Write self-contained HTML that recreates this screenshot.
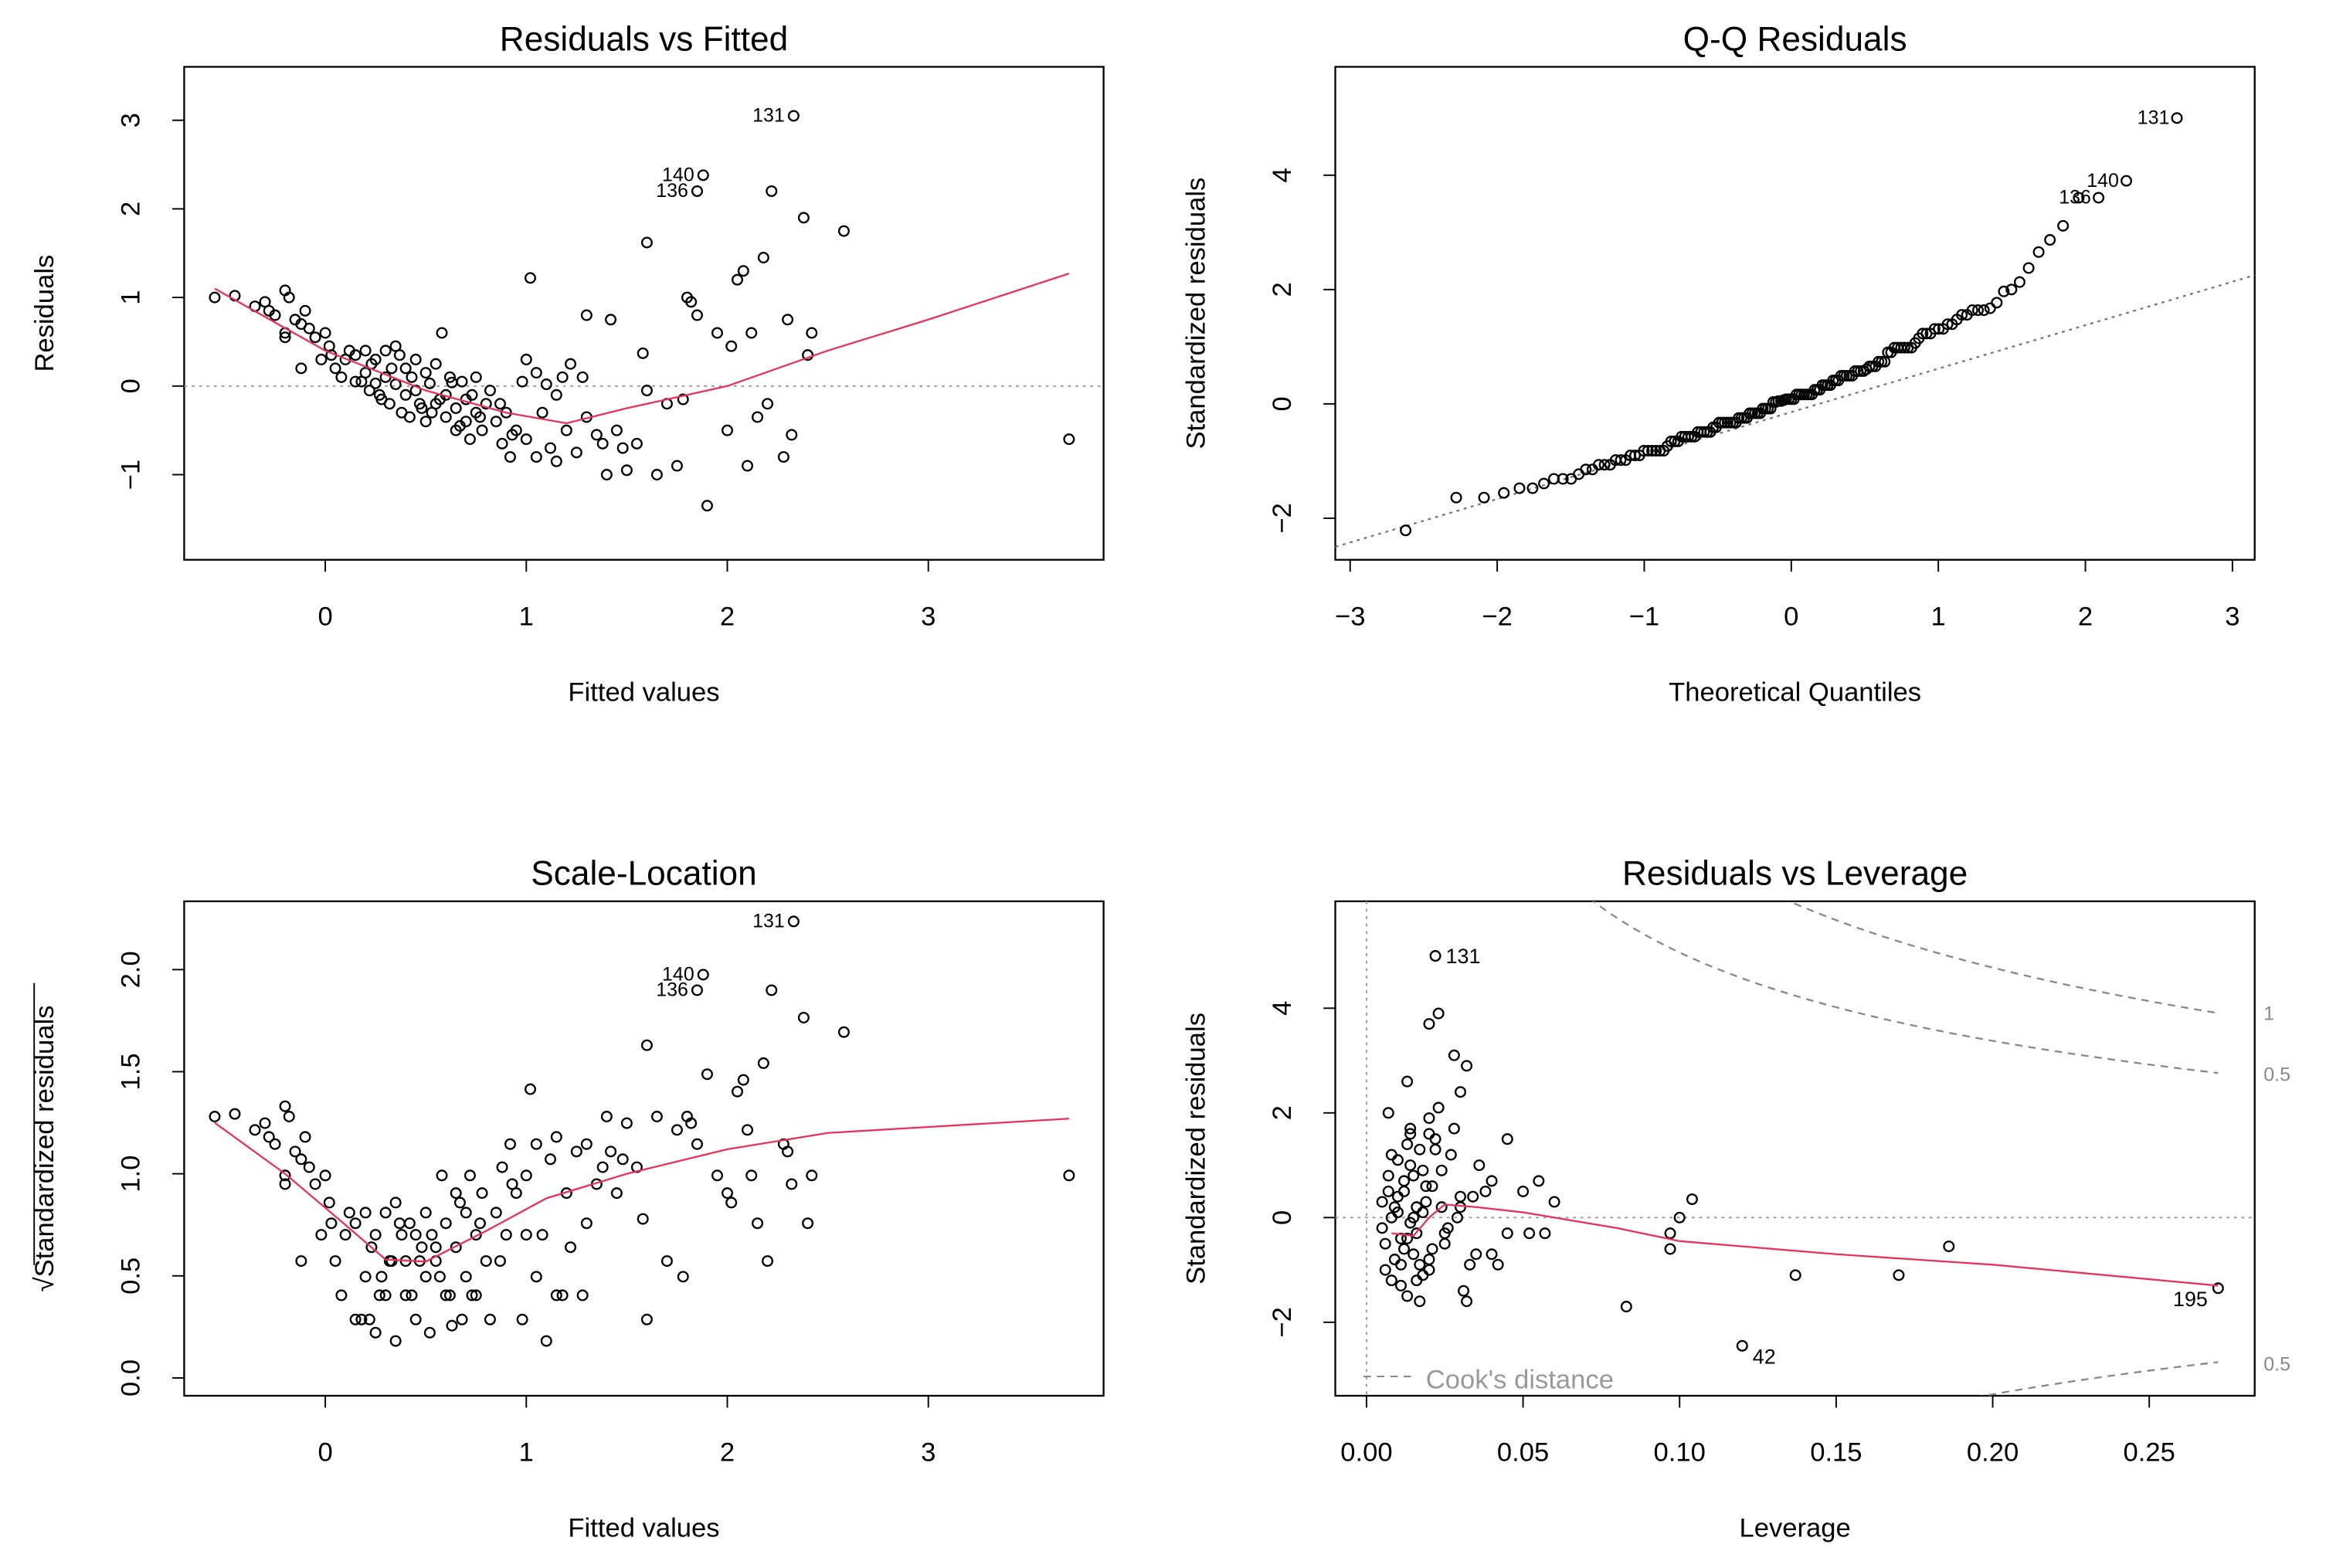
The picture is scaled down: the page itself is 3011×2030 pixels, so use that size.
<!DOCTYPE html>
<html><head><meta charset="utf-8"><style>
html,body{margin:0;padding:0;background:#fff;overflow:hidden;width:3011px;height:2030px}
svg{display:block}
text{font-family:"Liberation Sans",Arial,sans-serif;fill:#000}
</style></head><body>
<svg id="chart" width="3011" height="2030" viewBox="0 0 1566 1056" preserveAspectRatio="none" xmlns="http://www.w3.org/2000/svg"></svg>
<script>
// ---- Data ----
const fitted = [-0.55,-0.45,-0.35,-0.3,-0.28,-0.25,-0.2,-0.18,-0.15,-0.2,-0.2,-0.12,-0.1,-0.08,-0.05,-0.12,0,0.02,-0.02,0.05,0.1,0.08,0.15,0.15,0.2,0.2,0.22,0.25,0.25,0.28,0.3,0.3,0.32,0.35,0.35,0.38,0.4,0.4,0.42,0.45,0.45,0.48,0.5,0.5,0.52,0.55,0.55,0.58,0.6,0.6,0.62,0.65,0.65,0.68,0.7,0.7,0.72,0.75,0.75,0.78,0.8,0.82,0.85,0.88,0.9,0.92,0.95,0.98,1.0,1.0,1.02,1.05,1.05,1.08,1.1,1.12,1.15,1.15,1.18,1.2,1.22,1.25,1.28,1.3,1.3,1.35,1.38,1.4,1.42,1.45,1.48,1.5,1.55,1.58,1.6,1.6,1.65,1.7,1.75,1.78,1.8,1.82,1.85,1.85,1.88,1.9,1.95,2.0,2.02,2.05,2.08,2.1,2.12,2.15,2.18,2.2,2.22,2.28,2.3,2.32,2.33,2.38,2.4,2.42,2.58,3.7,0.18,0.27,0.33,0.43,0.47,0.53,0.63,0.67,0.73,0.57,0.37,0.23,0.12,0.03,0.77,0.87,0.93];
const resid = [1.0,1.02,0.9,0.95,0.85,0.8,1.08,1.0,0.75,0.6,0.55,0.7,0.85,0.65,0.55,0.2,0.6,0.45,0.3,0.2,0.3,0.1,0.35,0.05,0.4,0.15,-0.05,0.3,0.03,-0.15,0.4,0.1,-0.2,0.45,0.02,-0.3,0.2,-0.1,-0.35,0.3,-0.05,-0.25,0.15,-0.4,0.03,-0.2,0.25,0.6,-0.1,-0.35,0.1,-0.25,-0.5,0.05,-0.15,-0.4,-0.6,0.1,-0.3,-0.5,-0.2,-0.05,-0.4,-0.65,-0.3,-0.8,-0.5,0.05,0.3,-0.6,1.22,0.15,-0.8,-0.3,0.02,-0.7,-0.1,-0.85,0.1,-0.5,0.25,-0.75,0.1,0.8,-0.35,-0.55,-0.65,-1.0,0.75,-0.5,-0.7,-0.95,-0.65,0.37,1.62,-0.05,-1.0,-0.2,-0.9,-0.15,1.0,0.95,2.2,0.8,2.38,-1.35,0.6,-0.5,0.45,1.2,1.3,-0.9,0.6,-0.35,1.45,-0.2,2.2,-0.8,0.75,-0.55,3.05,1.9,0.35,0.6,1.75,-0.6,0.05,-0.1,0.2,0.1,-0.2,-0.3,0.04,-0.45,-0.1,-0.15,0.35,0.25,0.4,0.35,-0.35,-0.2,-0.55];
const sigma = 0.61;
const lev = [0.022,0.02,0.023,0.013,0.028,0.032,0.03,0.007,0.045,0.04,0.05,0.055,0.06,0.045,0.04,0.042,0.052,0.057,0.032,0.083,0.1,0.104,0.097,0.097,0.12,0.137,0.17,0.186,0.272,
 0.005,0.006,0.007,0.008,0.009,0.01,0.011,0.012,0.013,0.014,0.015,0.016,0.017,0.018,0.019,0.02,0.021,0.022,0.024,0.026,0.028,0.03,0.033,0.036,
 0.005,0.007,0.009,0.01,0.011,0.012,0.013,0.014,0.015,0.016,0.017,0.018,0.019,0.02,0.021,0.023,0.025,0.027,0.029,0.031,0.034,
 0.006,0.008,0.01,0.012,0.013,0.014,0.015,0.016,0.018,0.02,0.022,0.025,0.03,0.035,0.038,0.008,0.011,0.014,0.017,0.02,0.024];
const levRes = [5.0,3.7,3.9,2.6,3.1,2.9,2.4,2.0,1.5,0.7,0.5,0.7,0.3,-0.3,-0.7,-0.9,-0.3,-0.3,-1.6,-1.7,0.0,0.35,-0.3,-0.6,-2.45,-1.1,-1.1,-0.55,-1.35,
 0.3,-0.5,0.8,-1.2,0.2,1.1,-0.9,0.5,-1.5,1.6,0.0,-0.3,1.3,-1.1,0.6,1.9,-0.6,1.5,0.9,-0.2,1.7,0.4,-0.9,1.0,
 -0.2,0.5,-0.8,0.1,-1.3,0.7,-0.4,1.0,-0.7,0.2,-1.6,0.9,0.3,-1.0,0.6,2.1,-0.5,1.2,0.0,-1.4,0.4,
 -1.0,0.0,0.4,-0.6,1.4,-0.1,0.8,-1.2,0.1,-0.8,1.3,-0.3,0.2,-0.7,0.5,1.2,-0.4,1.7,-0.9,1.6,0.2];
const p1Labels = [["131",2.33,3.05],["140",1.88,2.38],["136",1.85,2.2]];
const smooth1X = [-0.55,0,0.5,0.9,1.2,1.5,2.0,2.5,3.0,3.7];
const smooth1Y = [1.1,0.4,-0.05,-0.3,-0.42,-0.25,0.0,0.4,0.75,1.27];
const smooth3X = [-0.55,-0.2,0.1,0.3,0.5,0.8,1.1,1.5,2.0,2.5,3.7];
const smooth3Y = [1.25,1.0,0.75,0.58,0.57,0.72,0.88,1.0,1.12,1.2,1.27];
const smooth4X = [0.008,0.015,0.02,0.025,0.035,0.05,0.08,0.1,0.15,0.2,0.272];
const smooth4Y = [-0.3,-0.35,0.0,0.25,0.2,0.1,-0.2,-0.45,-0.7,-0.9,-1.3];
const qqLineX = [-3.1,3.15];
const qqLineY = [-2.5,2.25];
const xTicksFit = [0,1,2,3];
const yTicks1 = [-1,0,1,2,3];
const xTicksQQ = [-3,-2,-1,0,1,2,3];
const yTicksQQ = [-2,0,2,4];
const yTicks3 = ["0.0","0.5","1.0","1.5","2.0"];
const xTicksLev = ["0.00","0.05","0.10","0.15","0.20","0.25"];
const yTicksLev = [-2,0,2,4];
const cookP = 5.7;

const NS="http://www.w3.org/2000/svg", svg=document.getElementById('chart');
function mk(tag,attrs,parent){const e=document.createElementNS(NS,tag);for(const k in attrs)e.setAttribute(k,attrs[k]);(parent||svg).appendChild(e);return e;}
function lin(d0,d1,r0,r1){return v=>r0+(v-d0)*(r1-r0)/(d1-d0);}
function txt(x,y,s,size,opts){const t=mk('text',Object.assign({x:x,y:y,'font-size':size,'text-anchor':'middle'},opts||{}));t.textContent=s;return t;}

function panel(name,box,title,xlab,ylab,sx,sy,xt,yt){
  const g=mk('g',{});
  
  
  const r=mk('rect',{x:box[0],y:box[1],width:box[2]-box[0],height:box[3]-box[1],fill:'none',stroke:'#000','stroke-width':1.2},g);
  
  
  const t=txt((box[0]+box[2])/2,box[1]-11,title,23,{}); g.appendChild(t);
  
  
  const xl=txt((box[0]+box[2])/2,box[3]+95,xlab,18,{}); g.appendChild(xl);
  
  
  const yx=box[0]-88, yy=(box[1]+box[3])/2;
  const yl=txt(yx,yy,ylab,18,{transform:`rotate(-90 ${yx} ${yy})`}); g.appendChild(yl);
  
  
  const xs=xt.map(v=>sx(+v));
  mk('line',{x1:xs[0],x2:xs[xs.length-1],y1:box[3],y2:box[3],stroke:'#000'},g);
  xt.forEach((v,i)=>{mk('line',{x1:xs[i],x2:xs[i],y1:box[3],y2:box[3]+8,stroke:'#000'},g);
    const l=txt(xs[i],box[3]+44,String(v).replace('-','\u2212'),18,{});g.appendChild(l);
    
    });
  const ys=yt.map(v=>sy(+v));
  mk('line',{x1:box[0],x2:box[0],y1:ys[0],y2:ys[ys.length-1],stroke:'#000'},g);
  yt.forEach((v,i)=>{mk('line',{x1:box[0]-8,x2:box[0],y1:ys[i],y2:ys[i],stroke:'#000'},g);
    const lx=box[0]-30;
    const l=txt(lx,ys[i],String(v).replace('-','\u2212'),18,{transform:`rotate(-90 ${lx} ${ys[i]})`});g.appendChild(l);
    
    });
  return g;
}
function pts(g,xs,ys,sx,sy){xs.forEach((v,i)=>{const c=mk('circle',{cx:sx(v),cy:sy(ys[i]),r:3.3,fill:'none',stroke:'#000','stroke-width':1.2},g);
  
  });}
function curve(g,xs,ys,sx,sy,stroke,dash){const d=xs.map((v,i)=>(i?'L':'M')+sx(v)+' '+sy(ys[i])).join(' ');
  const p=mk('path',{d:d,fill:'none',stroke:stroke,'stroke-width':1.2,'stroke-dasharray':dash||'none'},g);return p;}

// Panel 1
const b1=[124,45,743,377];
const sx1=lin(0,3,219,625), sy1=lin(0,3,260,81);
const g1=panel('residuals-vs-fitted',b1,'Residuals vs Fitted','Fitted values','Residuals',sx1,sy1,xTicksFit,yTicks1);
const z1=mk('line',{x1:b1[0],x2:b1[2],y1:sy1(0),y2:sy1(0),stroke:'#999','stroke-dasharray':'2 3'},g1);


pts(g1,fitted,resid,sx1,sy1);
const s1=curve(g1,smooth1X,smooth1Y,sx1,sy1,'#e8325a');


p1Labels.forEach(l=>{const t=txt(sx1(l[1])-6,sy1(l[2])+4,l[0],13,{'text-anchor':'end'});g1.appendChild(t);
  
  });

// Panel 2 Q-Q
function qnorm(p){const a=[-39.6968302866538,220.946098424521,-275.928510446969,138.357751867269,-30.6647980661472,2.50662827745924],b=[-54.4760987982241,161.585836858041,-155.698979859887,66.8013118877197,-13.2806815528857],c=[-0.00778489400243029,-0.322396458041136,-2.40075827716184,-2.54973253934373,4.37466414146731,2.93816398269878],d=[0.00778469570904146,0.32246712907004,2.445134137143,3.75440866190742];
 let q,r;if(p<0.02425){q=Math.sqrt(-2*Math.log(p));return(((((c[0]*q+c[1])*q+c[2])*q+c[3])*q+c[4])*q+c[5])/((((d[0]*q+d[1])*q+d[2])*q+d[3])*q+1);}
 if(p>1-0.02425){q=Math.sqrt(-2*Math.log(1-p));return-(((((c[0]*q+c[1])*q+c[2])*q+c[3])*q+c[4])*q+c[5])/((((d[0]*q+d[1])*q+d[2])*q+d[3])*q+1);}
 q=p-0.5;r=q*q;return(((((a[0]*r+a[1])*r+a[2])*r+a[3])*r+a[4])*r+a[5])*q/(((((b[0]*r+b[1])*r+b[2])*r+b[3])*r+b[4])*r+1);}
const b2=[899,45,1518,377];
const sx2=lin(0,3,1206,1503), sy2=lin(0,4,272,118);
const g2=panel('qq-residuals',b2,'Q-Q Residuals','Theoretical Quantiles','Standardized residuals',sx2,sy2,xTicksQQ,yTicksQQ);
const std=resid.map(r=>r/sigma).sort((a,b)=>a-b);
const n=std.length, th=std.map((v,i)=>qnorm((i+1-0.375)/(n+0.25)));
const ql=curve(g2,qqLineX,qqLineY,sx2,sy2,'#777','2 3');


pts(g2,th,std,sx2,sy2);
[["131",n-1],["140",n-2],["136",n-3]].forEach(l=>{const t=txt(sx2(th[l[1]])-5,sy2(std[l[1]])+4,l[0],13,{'text-anchor':'end'});g2.appendChild(t);
  
  });

// Panel 3 Scale-Location
const b3=[124,607,743,940];
const sy3=lin(0,2,928,653);
const g3=panel('scale-location',b3,'Scale-Location','Fitted values','\u221AStandardized residuals',sx1,sy3,xTicksFit,yTicks3);
const ov=mk('line',{x1:23,x2:23,y1:852,y2:662,stroke:'#000'},g3);


const sl=resid.map(r=>Math.sqrt(Math.abs(r)/sigma));
pts(g3,fitted,sl,sx1,sy3);
const s3=curve(g3,smooth3X,smooth3Y,sx1,sy3,'#e8325a');


p1Labels.forEach(l=>{const t=txt(sx1(l[1])-6,sy3(Math.sqrt(l[2]/sigma))+4,l[0],13,{'text-anchor':'end'});g3.appendChild(t);
  
  });

// Panel 4 Residuals vs Leverage
const b4=[899,607,1518,940];
const sx4=lin(0,0.25,920,1447), sy4=lin(0,4,820,679);
const g4=panel('residuals-vs-leverage',b4,'Residuals vs Leverage','Leverage','Standardized residuals',sx4,sy4,xTicksLev,yTicksLev);
mk('line',{x1:b4[0],x2:b4[2],y1:sy4(0),y2:sy4(0),stroke:'#999','stroke-dasharray':'2 3'},g4);
mk('line',{x1:sx4(0),x2:sx4(0),y1:b4[1],y2:b4[3],stroke:'#999','stroke-dasharray':'2 3'},g4);
const clip=mk('clipPath',{id:'c4'});mk('rect',{x:b4[0],y:b4[1],width:b4[2]-b4[0],height:b4[3]-b4[1]},clip);
const cg=mk('g',{'clip-path':'url(#c4)'},g4);
[[1,1],[0.5,1],[0.5,-1]].forEach(c=>{const hs=[],rs=[];for(let h=0.02;h<=0.275;h+=0.003){hs.push(h);rs.push(c[1]*Math.sqrt(c[0]*cookP*(1-h)/h));}
  const p=curve(cg,hs,rs,sx4,sy4,'#888','5 4');
  
  });
[["1",683],["0.5",724],["0.5",919]].forEach(l=>{const t=txt(1524,l[1]+4,l[0],13,{'text-anchor':'start',style:'fill:#888'});g4.appendChild(t);
  
  });
pts(g4,lev,levRes,sx4,sy4);
const s4=curve(g4,smooth4X,smooth4Y,sx4,sy4,'#e8325a');


[["131",0,'start',7],["42",24,'start',7],["195",28,'end',-7]].forEach(l=>{const t=txt(sx4(lev[l[1]])+l[3],sy4(levRes[l[1]])+(l[0]==='42'?12:(l[0]==='195'?12:5)),l[0],14,{'text-anchor':l[2]});g4.appendChild(t);
  
  });
mk('line',{x1:918,x2:950,y1:927,y2:927,stroke:'#888','stroke-dasharray':'5 4'},g4);
const lg=txt(960,935,"Cook's distance",18,{'text-anchor':'start',style:'fill:#999'});g4.appendChild(lg);


</script>
</body></html>
